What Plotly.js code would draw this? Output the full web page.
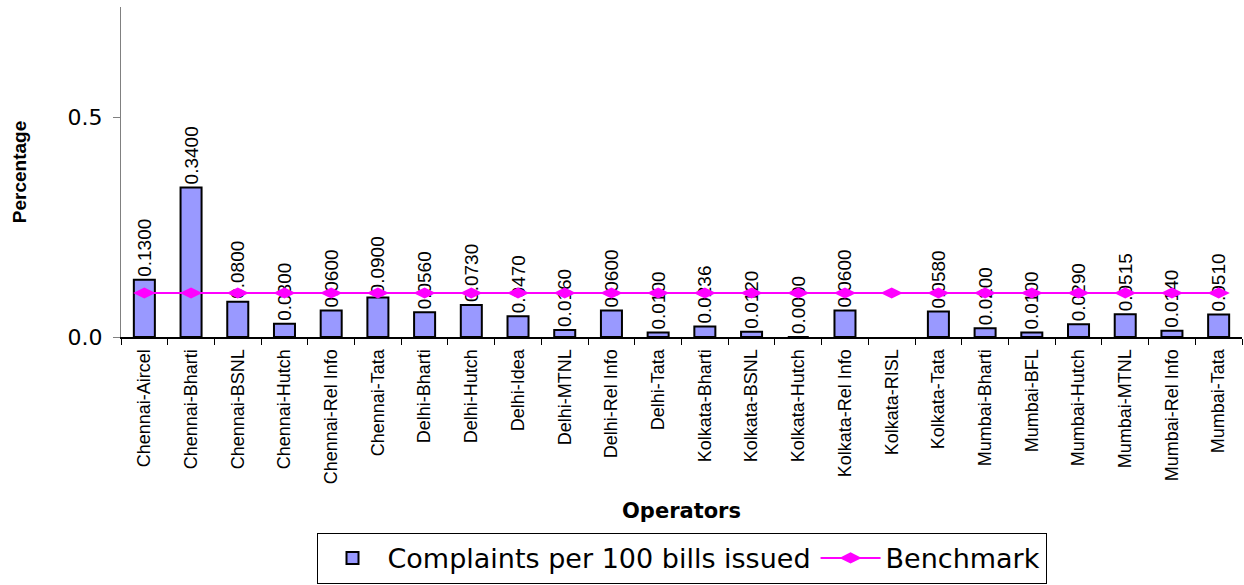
<!DOCTYPE html>
<html>
<head>
<meta charset="utf-8">
<script src="https://cdn.plot.ly/plotly-3.0.1.min.js"></script>
<style>
  html, body { margin: 0; padding: 0; background: #ffffff; }
  #chart { width: 1244px; height: 585px; }
</style>
</head>
<body>
<div id="chart"></div>
<script>
const operators = [
  "Chennai-Aircel", "Chennai-Bharti", "Chennai-BSNL", "Chennai-Hutch", "Chennai-Rel Info",
  "Chennai-Tata", "Delhi-Bharti", "Delhi-Hutch", "Delhi-Idea", "Delhi-MTNL",
  "Delhi-Rel Info", "Delhi-Tata", "Kolkata-Bharti", "Kolkata-BSNL", "Kolkata-Hutch",
  "Kolkata-Rel Info", "Kolkata-RISL", "Kolkata-Tata", "Mumbai-Bharti", "Mumbai-BFL",
  "Mumbai-Hutch", "Mumbai-MTNL", "Mumbai-Rel Info", "Mumbai-Tata"
];
const complaints = [
  0.1300, 0.3400, 0.0800, 0.0300, 0.0600,
  0.0900, 0.0560, 0.0730, 0.0470, 0.0160,
  0.0600, 0.0100, 0.0236, 0.0120, 0.0000,
  0.0600, null, 0.0580, 0.0200, 0.0100,
  0.0290, 0.0515, 0.0140, 0.0510
];
const benchmark = [
  0.1, 0.1, 0.1, 0.1, 0.1, 0.1, 0.1, 0.1, 0.1, 0.1, 0.1, 0.1,
  0.1, 0.1, 0.1, 0.1, 0.1, 0.1, 0.1, 0.1, 0.1, 0.1, 0.1, 0.1
];
const yTickVals = [0, 0.5];
const yTickText = ["0.0", "0.5"];

const sansFont = "Liberation Sans, Arial, sans-serif";
const wideFont = "DejaVu Sans, Verdana, sans-serif";

const traces = [
  {
    type: "bar",
    name: "Complaints per 100 bills issued",
    x: operators,
    y: complaints,
    marker: { color: "#9999FF", line: { color: "#000000", width: 2 } },
    texttemplate: "%{y:.4f}",
    textposition: "outside",
    textangle: -90,
    constraintext: "none",
    cliponaxis: false,
    textfont: { family: sansFont, size: 19, color: "#000000" },
    hoverinfo: "skip"
  },
  {
    type: "scatter",
    mode: "lines+markers",
    name: "Benchmark",
    x: operators,
    y: benchmark,
    line: { color: "#FF00FF", width: 2 },
    marker: { color: "#FF00FF", symbol: "diamond-wide", size: 16 },
    cliponaxis: false,
    hoverinfo: "skip"
  }
];

const layout = {
  width: 1244,
  height: 585,
  margin: { l: 121, r: 2, t: 7, b: 248 },
  paper_bgcolor: "#ffffff",
  plot_bgcolor: "#ffffff",
  showlegend: true,
  bargap: 0.55,
  font: { family: sansFont, color: "#000000" },
  xaxis: {
    type: "category",
    range: [-0.5, 23.5],
    automargin: false,
    tickangle: -90,
    tickfont: { family: sansFont, size: 18, color: "#000000" },
    ticks: "outside",
    tickson: "boundaries",
    ticklen: 6,
    tickcolor: "#000000",
    ticklabelstandoff: 3,
    showline: true,
    linecolor: "#000000",
    linewidth: 2,
    showgrid: false,
    zeroline: false,
    title: {
      text: "<b>Operators</b>",
      font: { family: wideFont, size: 21, color: "#000000" },
      standoff: 20
    }
  },
  yaxis: {
    range: [0, 0.75],
    automargin: false,
    tickvals: yTickVals,
    ticktext: yTickText,
    tickfont: { family: wideFont, size: 22, color: "#000000" },
    ticks: "outside",
    ticklen: 7,
    tickcolor: "#808080",
    ticklabelstandoff: 6,
    showline: true,
    linecolor: "#808080",
    linewidth: 1,
    showgrid: false,
    zeroline: false,
    title: {
      text: "<b>Percentage</b>",
      font: { family: sansFont, size: 19, color: "#000000" },
      standoff: 35
    }
  },
  legend: {
    orientation: "h",
    x: 0.5,
    xanchor: "center",
    yref: "container",
    y: 0.002,
    yanchor: "bottom",
    bordercolor: "#000000",
    borderwidth: 1,
    bgcolor: "#ffffff",
    font: { family: wideFont, size: 27, color: "#000000" },
    itemwidth: 60,
    traceorder: "normal"
  }
};

Plotly.newPlot("chart", traces, layout, { staticPlot: true, displayModeBar: false });
</script>
</body>
</html>
